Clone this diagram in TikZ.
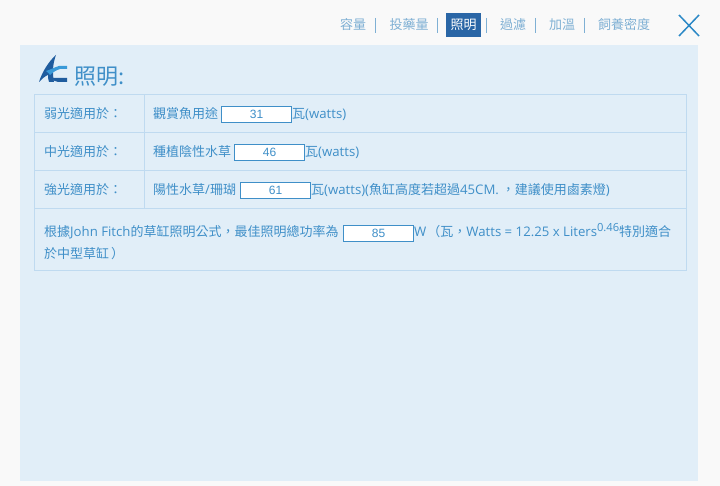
\documentclass[tikz,border=0pt]{standalone}
\usepackage{fontspec}
\setmainfont{Open Sans}
\newfontfamily\cjk{Noto Sans CJK TC}[Scale=1.0]
\newfontfamily\lat{Open Sans}[Scale=1.015]
\newfontfamily\arialfont{Liberation Sans}
\usepackage{tikz}
\usetikzlibrary{positioning}
\definecolor{pagebg}{HTML}{F9F9F9}
\definecolor{panelbg}{HTML}{E1EEF8}
\definecolor{gridline}{HTML}{BFDAF0}
\definecolor{textblue}{HTML}{3F8FC8}
\definecolor{tabblue}{HTML}{7FB0D4}
\definecolor{activeblue}{HTML}{2A66A6}
\definecolor{crossblue}{HTML}{2B88C6}
\definecolor{logoblue}{HTML}{1F5C9E}
\definecolor{logocyan}{HTML}{3A9AD8}
\tikzset{
  tablabel/.style={font=\cjk\fontsize{13}{13}\selectfont, text=tabblue, inner sep=0pt, anchor=base},
  tabsep/.style={draw=tabblue, line width=0.8pt},
  celltext/.style={font=\cjk\fontsize{13}{13}\selectfont, text=textblue, inner sep=0pt, anchor=base west},
  valuebox/.style={draw=textblue, fill=white, line width=0.8pt, minimum width=70pt, minimum height=16pt, inner sep=0pt, outer sep=0pt, text=textblue, font=\arialfont\fontsize{12}{12}\selectfont, anchor=north west},
  gridrule/.style={draw=gridline, line width=0.8pt}
}
\begin{document}
\begin{tikzpicture}[x=1pt,y=-1pt]
  \useasboundingbox (0,0) rectangle (720,486);
  \fill[pagebg] (0,0) rectangle (720,486);
  \fill[panelbg] (20,45) rectangle (698,481);

  % top tabs
  \node[tablabel] (capacity) at (353,30) {容量};
  \node[tablabel] (dosing) at (409,30) {投藥量};
  \fill[activeblue] (446,13) rectangle (481,37);
  \node[tablabel, text=white] (light) at (463.5,30) {照明};
  \node[tablabel] (filter) at (513,30) {過濾};
  \node[tablabel] (heat) at (562,30) {加溫};
  \node[tablabel] (density) at (624,30) {飼養密度};
  \draw[tabsep] (375.5,18) -- (375.5,33);
  \draw[tabsep] (437.5,18) -- (437.5,33);
  \draw[tabsep] (486.5,18) -- (486.5,33);
  \draw[tabsep] (535.5,18) -- (535.5,33);
  \draw[tabsep] (584.5,18) -- (584.5,33);
  \draw[crossblue, line width=1.5pt] (679,15) -- (699,36);
  \draw[crossblue, line width=1.5pt] (699,15) -- (679,36);

  % logo
  \fill[logoblue] (39,82) .. controls (42,72) and (49,61) .. (56,55) .. controls (53,63) and (52,72) .. (54,82) -- (49,82) .. controls (48,79) and (48,77) .. (48,75) .. controls (45,76) and (42,79) .. (39,82);
  \fill[logocyan] (46,71) .. controls (50,70) and (55,67) .. (59,66) -- (67,66) -- (67,69) -- (60,69) .. controls (57,70) and (53,72) .. (50,75) .. controls (49,74) and (48,72) .. (46,71);
  \fill[logoblue] (52,78) -- (67,78) -- (67,82) -- (58,82) .. controls (55,82) and (53,80) .. (52,78);
  \node[celltext, font=\cjk\fontsize{22}{22}\selectfont] (title) at (74,85) {照明:};

  % table
  \draw[gridrule] (34.5,94.5) rectangle (686.5,270.5);
  \draw[gridrule] (34.5,132.5) -- (686.5,132.5);
  \draw[gridrule] (34.5,170.5) -- (686.5,170.5);
  \draw[gridrule] (34.5,208.5) -- (686.5,208.5);
  \draw[gridrule] (144.5,94.5) -- (144.5,208.5);

  \node[celltext] (weak) at (44,118.5) {弱光適用於：};
  \node[celltext] (weakuse) at (153,118.5) {觀賞魚用途};
  \node[valuebox] (weakbox) at (221.5,106.5) {31};
  \node[celltext] (weakunit) at (292,118.5) {瓦{\lat(watts)}};

  \node[celltext] (mid) at (44,156.5) {中光適用於：};
  \node[celltext] (miduse) at (153,156.5) {種植陰性水草};
  \node[valuebox] (midbox) at (234.5,144.5) {46};
  \node[celltext] (midunit) at (305,156.5) {瓦{\lat(watts)}};

  \node[celltext] (strong) at (44,194.5) {強光適用於：};
  \node[celltext] (stronguse) at (153,194.5) {陽性水草{\lat/}珊瑚};
  \node[valuebox] (strongbox) at (240.5,182.5) {61};
  \node[celltext] (strongunit) at (311,194.5) {瓦{\lat(watts)(}魚缸高度若超過{\lat 45CM.\hspace{3pt}}，建議使用鹵素燈{\lat)}};

  \node[celltext] (formula) at (44,236.5) {根據{\lat John Fitch}的草缸照明公式，最佳照明總功率為};
  \node[valuebox] (totalbox) at (343.5,225.5) {85};
  \node[celltext] (totalunit) at (414,236.5) {{\lat W}\hspace{1pt}（瓦，{\lat Watts = 12.25 x Liters\raisebox{4.5pt}{\fontsize{11}{11}\selectfont 0.46}}特別適合};
  \node[celltext] (formulaend) at (44,258.5) {於中型草缸\hspace{2pt}）};
\end{tikzpicture}
\end{document}
